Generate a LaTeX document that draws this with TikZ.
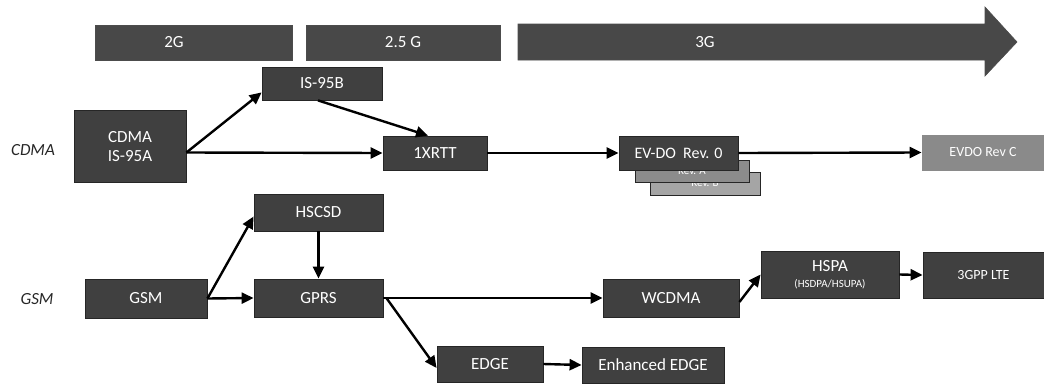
\documentclass[tikz,border=0pt]{standalone}
\usepackage{fontspec}
\setmainfont{Carlito}
\usetikzlibrary{arrows.meta}
\definecolor{boxgray}{RGB}{64,64,64}
\definecolor{bargray}{RGB}{72,72,72}
\definecolor{lightbox}{RGB}{138,138,138}
\definecolor{revA}{RGB}{140,140,140}
\definecolor{revB}{RGB}{165,165,165}
\tikzset{
  gbox/.style={draw=black!85, line width=0.8pt, fill=boxgray, text=white,
    inner sep=0pt, font=\fontsize{17}{19}\selectfont, align=center},
  bar/.style={fill=bargray, draw=black!70, line width=0.6pt, inner sep=0pt,
    text=white, font=\fontsize{17}{19}\selectfont},
  conn/.style={line width=2.4pt, -{Triangle[length=12pt,width=11pt]}},
  tech/.style={font=\itshape\fontsize{17}{19}\selectfont, text=black!85}
}
\begin{document}
\begin{tikzpicture}[x=1pt,y=-1pt]
\useasboundingbox (0,0) rectangle (1044,383);
% era bars
\node[bar, minimum width=197pt, minimum height=35pt] (bar2g) at (193.5,42.5) {};
\node[text=white, font=\fontsize{17}{19}\selectfont] (t2g) at (174,42.5) {2G};
\node[bar, minimum width=194pt, minimum height=35pt] (bar25) at (403,42.5) {2.5 G};
\fill[bargray, draw=black!70, line width=0.6pt] (518,24) -- (985,24) -- (985,7) -- (1017,42) -- (985,76) -- (985,60) -- (518,60) -- cycle;
\node[text=white, font=\fontsize{17}{19}\selectfont] (t3g) at (705,42.5) {3G};
% technology labels
\node[tech] (lcdma) at (33,150) {CDMA};
\node[tech] (lgsm) at (37,299) {GSM};
% CDMA line
\node[gbox, minimum width=112pt, minimum height=72pt] (is95a) at (130,146.5) {CDMA\\IS-95A};
\node[gbox, minimum width=120pt, minimum height=33pt] (is95b) at (322,83.5) {IS-95B};
\node[gbox, minimum width=104pt, minimum height=34pt] (rtt) at (435,153) {1XRTT};
\node[gbox, fill=revB, minimum width=110pt, minimum height=23pt, font=\fontsize{11}{12}\selectfont] (evdoB) at (705,183.5) {Rev. B};
\node[gbox, fill=revA, minimum width=114pt, minimum height=22pt, font=\fontsize{11}{12}\selectfont] (evdoA) at (692,171) {Rev. A};
\node[gbox, minimum width=119pt, minimum height=34pt, font=\fontsize{16}{18}\selectfont] (evdo0) at (678.5,153) {EV-DO\ \ Rev. 0};
\node[gbox, fill=lightbox, draw=lightbox, minimum width=122pt, minimum height=35pt, font=\fontsize{14}{16}\selectfont] (evdoC) at (983,152.5) {EVDO Rev C};
% GSM line
\node[gbox, minimum width=129pt, minimum height=37pt] (hscsd) at (318.5,212.5) {HSCSD};
\node[gbox, minimum width=122pt, minimum height=39pt] (gsm) at (146,298.5) {GSM};
\node[gbox, minimum width=129pt, minimum height=38pt] (gprs) at (318.5,298) {GPRS};
\node[gbox, minimum width=106pt, minimum height=36pt] (edge) at (490,364) {EDGE};
\node[gbox, minimum width=142pt, minimum height=36pt] (eedge) at (653,365) {Enhanced EDGE};
\node[gbox, minimum width=136pt, minimum height=38pt] (wcdma) at (671,298) {WCDMA};
\node[gbox, minimum width=138pt, minimum height=47pt] (hspa) at (830,274.5) {HSPA\\[-3pt]{\fontsize{11}{12}\selectfont (HSDPA/HSUPA)}};
\node[gbox, minimum width=121pt, minimum height=46pt, font=\fontsize{14}{16}\selectfont] (lte) at (983.5,275) {3GPP LTE};
% connectors
\draw[conn] ([yshift=-6pt]is95a.east) -- ([yshift=8pt]is95b.south west);
\draw[conn] ([yshift=-6pt]is95a.east) -- (rtt.west);
\draw[conn] ([xshift=-4pt]is95b.south) -- ([xshift=-7pt]rtt.north);
\draw[conn] (rtt.east) -- (evdo0.west);
\draw[conn] (evdo0.east) -- (evdoC.west);
\draw[conn] (gsm.east) -- ([yshift=-4pt]hscsd.west);
\draw[conn] (gsm.east) -- (gprs.west);
\draw[conn] (hscsd.south) -- (gprs.north);
\draw[conn] (gprs.east) -- (wcdma.west);
\draw[conn] ([xshift=3pt]gprs.east) -- ([yshift=-4pt]edge.west);
\draw[conn] (edge.east) -- (eedge.west);
\draw[conn] ([yshift=-4pt]wcdma.east) -- (hspa.west);
\draw[conn] (hspa.east) -- (lte.west);
\end{tikzpicture}
\end{document}
